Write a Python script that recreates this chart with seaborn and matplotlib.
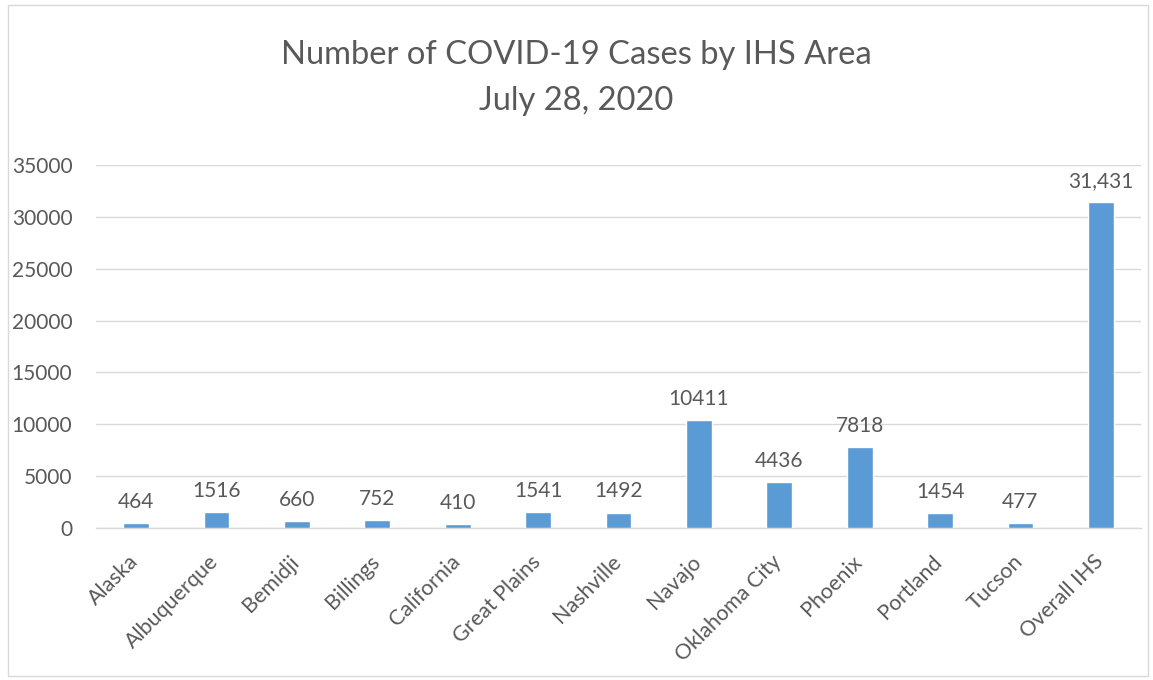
import matplotlib
matplotlib.use("Agg")
import matplotlib.pyplot as plt
import matplotlib.transforms as mtransforms
import seaborn as sns
import pandas as pd
from matplotlib.patches import Rectangle

areas = ["Alaska", "Albuquerque", "Bemidji", "Billings", "California", "Great Plains",
         "Nashville", "Navajo", "Oklahoma City", "Phoenix", "Portland", "Tucson", "Overall IHS"]
cases = [464, 1516, 660, 752, 410, 1541, 1492, 10411, 4436, 7818, 1454, 477, 31431]
value_labels = ["464", "1516", "660", "752", "410", "1541", "1492", "10411", "4436",
                "7818", "1454", "477", "31,431"]
y_ticks = [0, 5000, 10000, 15000, 20000, 25000, 30000, 35000]

sns.set_theme(style="white")
plt.rcParams['font.family'] = ['Lato', 'DejaVu Sans']

text_color = "#595959"
bar_color = "#5b9bd5"

df = pd.DataFrame({"area": areas, "cases": cases})

fig = plt.figure(figsize=(11.53, 6.80), dpi=100)
ax = fig.add_axes([96/1153, 1-528/680, (1141-96)/1153, (528-165)/680])

sns.barplot(data=df, x="area", y="cases", color=bar_color, width=0.32,
            saturation=1, ax=ax, zorder=3)

ax.set_ylim(0, 35000)
ax.set_yticks(y_ticks)
ax.set_yticklabels([str(t) for t in y_ticks], fontsize=15, color=text_color)
ax.yaxis.grid(True, color="#d9d9d9", linewidth=1, zorder=0)
ax.set_axisbelow(True)
for s in ["top", "right", "left"]:
    ax.spines[s].set_visible(False)
ax.spines["bottom"].set_color("#d9d9d9")
ax.spines["bottom"].set_linewidth(1)
ax.tick_params(axis="y", length=0, pad=17)
ax.tick_params(axis="x", length=0, pad=17)
ax.set_xlabel("")
ax.set_ylabel("")
ax.set_xticks(range(len(areas)))
ax.set_xticklabels(areas, rotation=45, ha="right", rotation_mode="anchor",
                   fontsize=15.5, color=text_color)
shift = mtransforms.ScaledTranslation(-8/100, 0, fig.dpi_scale_trans)
for lbl in ax.get_xticklabels():
    lbl.set_transform(lbl.get_transform() + shift)

for i, (v, lab) in enumerate(zip(cases, value_labels)):
    ax.annotate(lab, (i, v), xytext=(0, 8), textcoords="offset points",
                ha="center", va="bottom", fontsize=15, color=text_color)

fig.text(0.5, 1-55/680, "Number of COVID-19 Cases by IHS Area", ha="center", va="center",
         fontsize=23.6, color=text_color)
fig.text(0.5, 1-101/680, "July 28, 2020", ha="center", va="center",
         fontsize=23.6, color=text_color)

fig.patches.append(Rectangle((8/1153, 1-676/680), (1148-8)/1153, (676-5)/680,
                             transform=fig.transFigure, fill=False,
                             edgecolor="#d9d9d9", linewidth=1))

fig.savefig("out.png", dpi=100)
